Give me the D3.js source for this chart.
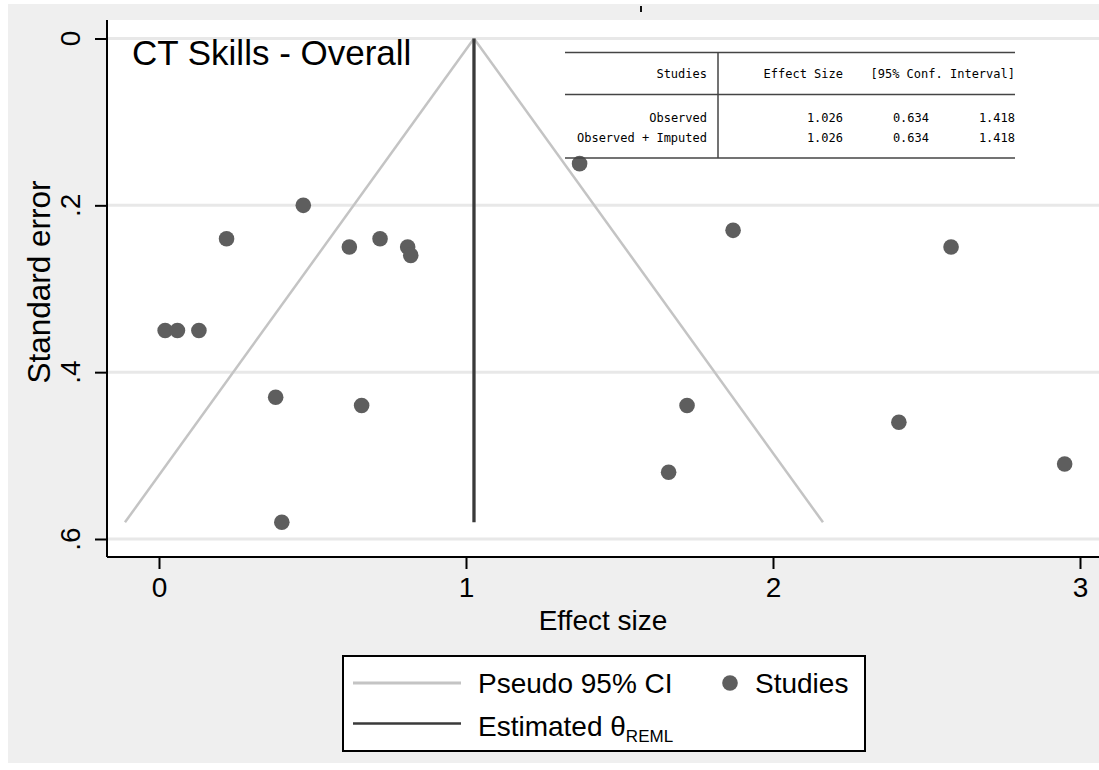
<!DOCTYPE html>
<html>
<head>
<meta charset="utf-8">
<script src="https://cdn.jsdelivr.net/npm/d3@7"></script>
<style>
  html, body { margin: 0; padding: 0; background: #ffffff; }
  svg { display: block; }
</style>
</head>
<body>
<svg id="chart" width="1099" height="770"></svg>
<script>
// Study effect sizes (x) and their standard errors (y)
const effectSizes = [0.02, 0.06, 0.13, 0.22, 0.47, 0.62, 0.72, 0.81, 0.82, 0.38, 0.66, 0.40,
                     1.37, 1.87, 2.58, 1.72, 1.66, 2.41, 2.95];
const standardErrors = [0.35, 0.35, 0.35, 0.24, 0.20, 0.25, 0.24, 0.25, 0.26, 0.43, 0.44, 0.58,
                        0.15, 0.23, 0.25, 0.44, 0.52, 0.46, 0.51];

// Pooled REML estimate and summary table
const thetaREML = 1.026;
const tableHeader = ["Studies", "Effect Size", "[95% Conf. Interval]"];
const tableLabels = ["Observed", "Observed + Imputed"];
const tableEffect = [1.026, 1.026];
const tableLower = [0.634, 0.634];
const tableUpper = [1.418, 1.418];

// Axis ticks
const xTicks = [0, 1, 2, 3];
const xTickLabels = ["0", "1", "2", "3"];
const yTicks = [0, 0.2, 0.4, 0.6];
const yTickLabels = ["0", ".2", ".4", ".6"];

const svg = d3.select("#chart");
const sans = "'Liberation Sans', Arial, sans-serif";
const mono = "'DejaVu Sans Mono', 'Liberation Mono', monospace";

// Plot region
const plot = { left: 107, top: 20, right: 1099, bottom: 557 };

const x = d3.scaleLinear().domain([0, 3]).range([159, 1080]);
const y = d3.scaleLinear().domain([0, 0.6]).range([38.5, 539]);

// Graph background
svg.append("rect").attr("x", 8).attr("y", 4).attr("width", 1091).attr("height", 759)
  .attr("fill", "#efefef");
svg.append("rect").attr("x", plot.left).attr("y", plot.top)
  .attr("width", plot.right - plot.left).attr("height", plot.bottom - plot.top)
  .attr("fill", "#ffffff");

// Fragment of the graph title above the plot
svg.append("line").attr("x1", 641).attr("x2", 641).attr("y1", 6).attr("y2", 12)
  .attr("stroke", "#111").attr("stroke-width", 2);

// Horizontal gridlines
svg.append("g").selectAll("line").data(yTicks).join("line")
  .attr("x1", plot.left).attr("x2", plot.right)
  .attr("y1", d => y(d)).attr("y2", d => y(d))
  .attr("stroke", "#e8e8e8").attr("stroke-width", 3);

// Pseudo 95% confidence limits
const seMax = d3.max(standardErrors);
const ciLeft = [[thetaREML - 1.96 * seMax, seMax], [thetaREML, 0]];
const ciRight = [[thetaREML, 0], [thetaREML + 1.96 * seMax, seMax]];
const line = d3.line().x(d => x(d[0])).y(d => y(d[1]));
[ciLeft, ciRight].forEach(seg => {
  svg.append("path").attr("d", line(seg)).attr("fill", "none")
    .attr("stroke", "#c4c4c4").attr("stroke-width", 2.5);
});

// Estimated theta
svg.append("line")
  .attr("x1", x(thetaREML)).attr("x2", x(thetaREML))
  .attr("y1", y(0)).attr("y2", y(seMax))
  .attr("stroke", "#3a3a3a").attr("stroke-width", 3.3);

// Studies
svg.append("g").selectAll("circle").data(effectSizes).join("circle")
  .attr("cx", d => x(d))
  .attr("cy", (d, i) => y(standardErrors[i]))
  .attr("r", 7.8)
  .attr("fill", "#5e5e5e");

// Axes
const xAxis = d3.axisBottom(x).tickValues(xTicks).tickSize(12)
  .tickFormat((d, i) => xTickLabels[i]);
const gx = svg.append("g").attr("transform", `translate(0,${plot.bottom})`).call(xAxis);
gx.select(".domain").remove();
gx.selectAll(".tick line").attr("stroke", "#000").attr("stroke-width", 2);
gx.selectAll(".tick text").attr("font-family", sans).attr("font-size", 28)
  .attr("fill", "#000").attr("dy", null).attr("y", 40);

const yAxis = d3.axisLeft(y).tickValues(yTicks).tickSize(12).tickFormat(() => "");
const gy = svg.append("g").attr("transform", `translate(${plot.left},0)`).call(yAxis);
gy.select(".domain").remove();
gy.selectAll(".tick line").attr("stroke", "#000").attr("stroke-width", 2);

// Rotated y tick labels
svg.append("g").selectAll("text").data(yTicks).join("text")
  .attr("transform", d => `translate(80,${y(d)}) rotate(-90)`)
  .attr("text-anchor", "middle")
  .attr("font-family", sans).attr("font-size", 28).attr("fill", "#000")
  .text((d, i) => yTickLabels[i]);

// Axis lines
svg.append("line").attr("x1", plot.left).attr("x2", plot.right)
  .attr("y1", plot.bottom).attr("y2", plot.bottom)
  .attr("stroke", "#000").attr("stroke-width", 2);
svg.append("line").attr("x1", plot.left).attr("x2", plot.left)
  .attr("y1", plot.top).attr("y2", plot.bottom)
  .attr("stroke", "#000").attr("stroke-width", 2);

// Axis titles
svg.append("text").attr("x", 603).attr("y", 630).attr("text-anchor", "middle")
  .attr("font-family", sans).attr("font-size", 28).attr("fill", "#000")
  .text("Effect size");
svg.append("text").attr("transform", "translate(50,282) rotate(-90)")
  .attr("text-anchor", "middle")
  .attr("font-family", sans).attr("font-size", 31.5).attr("fill", "#000")
  .text("Standard error");

// Plot title
svg.append("text").attr("x", 132).attr("y", 65)
  .attr("font-family", sans).attr("font-size", 35).attr("fill", "#000")
  .text("CT Skills - Overall");

// Summary table
const tbl = svg.append("g");
const ruleY = [52.5, 94.5, 158];
ruleY.forEach(yy => {
  tbl.append("line").attr("x1", 565).attr("x2", 1015).attr("y1", yy).attr("y2", yy)
    .attr("stroke", "#444").attr("stroke-width", 1.5);
});
tbl.append("line").attr("x1", 718).attr("x2", 718).attr("y1", 52.5).attr("y2", 158)
  .attr("stroke", "#444").attr("stroke-width", 1.5);
const tText = (tx, ty, s) => tbl.append("text").attr("x", tx).attr("y", ty)
  .attr("text-anchor", "end").attr("font-family", mono).attr("font-size", 12)
  .attr("fill", "#000").text(s);
tText(707, 78, tableHeader[0]);
tText(843, 78, tableHeader[1]);
tText(1015, 78, tableHeader[2]);
tableLabels.forEach((lab, i) => {
  const ty = 121.5 + i * 20;
  tText(707, ty, lab);
  tText(843, ty, tableEffect[i].toFixed(3));
  tText(929, ty, tableLower[i].toFixed(3));
  tText(1015, ty, tableUpper[i].toFixed(3));
});

// Legend
const lg = svg.append("g");
lg.append("rect").attr("x", 343).attr("y", 656).attr("width", 522).attr("height", 95)
  .attr("fill", "#ffffff").attr("stroke", "#000").attr("stroke-width", 2);
lg.append("line").attr("x1", 353).attr("x2", 461).attr("y1", 683).attr("y2", 683)
  .attr("stroke", "#c4c4c4").attr("stroke-width", 3);
lg.append("text").attr("x", 478).attr("y", 693)
  .attr("font-family", sans).attr("font-size", 28).attr("fill", "#000")
  .text("Pseudo 95% CI");
lg.append("circle").attr("cx", 730).attr("cy", 683).attr("r", 7.8).attr("fill", "#5e5e5e");
lg.append("text").attr("x", 755).attr("y", 693)
  .attr("font-family", sans).attr("font-size", 28).attr("fill", "#000")
  .text("Studies");
lg.append("line").attr("x1", 353).attr("x2", 461).attr("y1", 723.5).attr("y2", 723.5)
  .attr("stroke", "#3a3a3a").attr("stroke-width", 2.5);
const est = lg.append("text").attr("x", 478).attr("y", 736)
  .attr("font-family", sans).attr("font-size", 28).attr("fill", "#000");
est.append("tspan").text("Estimated θ");
est.append("tspan").attr("font-size", 17).attr("dy", 6).text("REML");
</script>
</body>
</html>
